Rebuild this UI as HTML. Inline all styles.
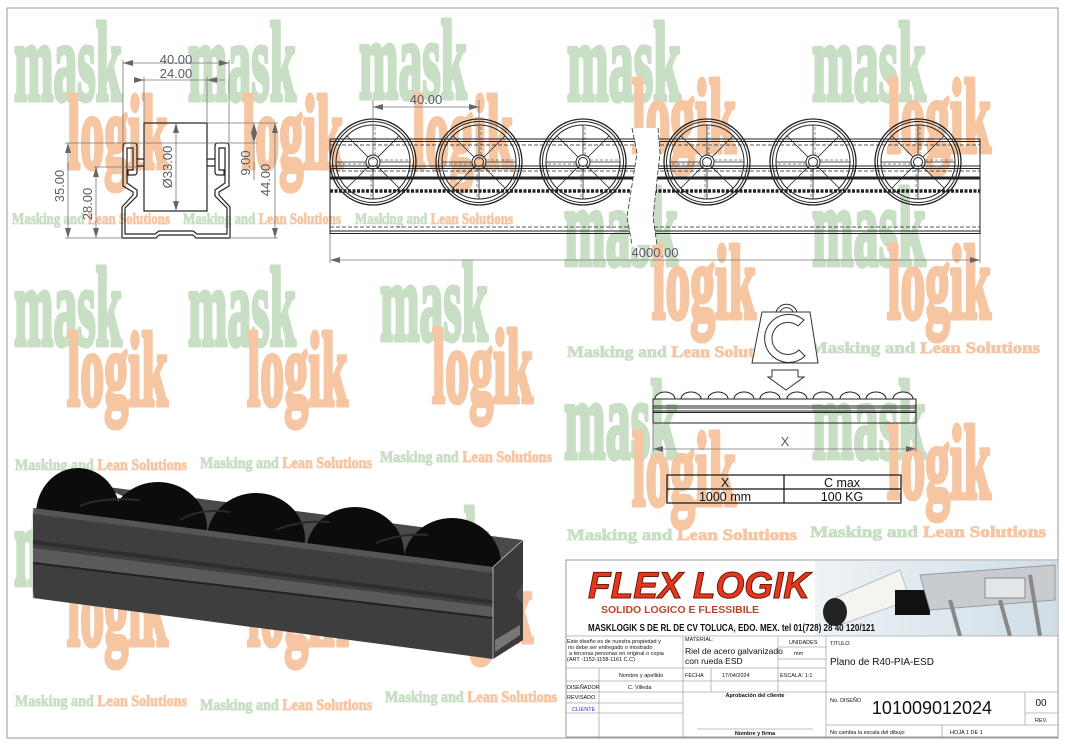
<!DOCTYPE html>
<html><head><meta charset="utf-8"><style>
html,body{margin:0;padding:0;background:#fff;}
svg{display:block;}
.d{font-family:"Liberation Sans",sans-serif;fill:#5a5a6a;font-size:13px;}
.t{font-family:"Liberation Sans",sans-serif;fill:#111;}
</style></head><body>
<svg width="1065" height="745" viewBox="0 0 1065 745" xmlns="http://www.w3.org/2000/svg">
<defs>
<marker id="a" markerWidth="10" markerHeight="6" refX="10" refY="3" orient="auto-start-reverse" markerUnits="userSpaceOnUse"><path d="M0,0 L10,3 L0,6 z" fill="#666"/></marker>
<linearGradient id="ph" x1="0" x2="1" y1="0" y2="0"><stop offset="0" stop-color="#eef3f6"/><stop offset="1" stop-color="#cfdde6"/></linearGradient>
<g id="wh" fill="none" stroke="#222" stroke-width="1">
<circle r="43" stroke-width="1.3"/><circle r="40.5"/><circle r="37"/><circle r="7"/><circle r="4.5"/>
<path d="M0,-7 V-37 M0,7 V37 M-7,0 H-37 M7,0 H37 M5,-5 L26,-26 M-5,-5 L-26,-26 M5,5 L26,26 M-5,5 L-26,26" stroke-width="0.8"/>
<path d="M2,-7 V-37 M-2,7 V37 M-7,2 H-37 M7,-2 H37" stroke-width="0.5" stroke-dasharray="3,2"/>
</g>
</defs>
<rect x="0" y="0" width="1065" height="745" fill="#fff"/>
<rect x="7" y="8" width="1051" height="730" fill="none" stroke="#999" stroke-width="1"/>

<!-- WATERMARKS -->
<g font-family="Liberation Serif,serif" font-weight="bold">
<g fill="#c9dfc5" stroke="#c9dfc5" stroke-width="5" stroke-linejoin="round" font-size="112">
<text x="14" y="100" textLength="108" lengthAdjust="spacingAndGlyphs">mask</text>
<text x="188" y="100" textLength="108" lengthAdjust="spacingAndGlyphs">mask</text>
<text x="359" y="98" textLength="108" lengthAdjust="spacingAndGlyphs">mask</text>
<text x="14" y="345" textLength="108" lengthAdjust="spacingAndGlyphs">mask</text>
<text x="188" y="345" textLength="108" lengthAdjust="spacingAndGlyphs">mask</text>
<text x="380" y="340" textLength="108" lengthAdjust="spacingAndGlyphs">mask</text>
<text x="14" y="585" textLength="108" lengthAdjust="spacingAndGlyphs">mask</text>
<text x="192" y="585" textLength="108" lengthAdjust="spacingAndGlyphs">mask</text>
<text x="382" y="585" textLength="108" lengthAdjust="spacingAndGlyphs">mask</text>
<text x="567" y="100" textLength="114" lengthAdjust="spacingAndGlyphs">mask</text>
<text x="812" y="100" textLength="114" lengthAdjust="spacingAndGlyphs">mask</text>
<text x="564" y="265" textLength="114" lengthAdjust="spacingAndGlyphs">mask</text>
<text x="812" y="265" textLength="114" lengthAdjust="spacingAndGlyphs">mask</text>
<text x="564" y="458" textLength="114" lengthAdjust="spacingAndGlyphs">mask</text>
<text x="812" y="458" textLength="114" lengthAdjust="spacingAndGlyphs">mask</text>
</g>
<g fill="#f6c6a3" stroke="#f6c6a3" stroke-width="5" stroke-linejoin="round" font-size="105">
<text x="67" y="168" textLength="101" lengthAdjust="spacingAndGlyphs">logik</text>
<text x="242" y="168" textLength="101" lengthAdjust="spacingAndGlyphs">logik</text>
<text x="412" y="168" textLength="101" lengthAdjust="spacingAndGlyphs">logik</text>
<text x="67" y="405" textLength="101" lengthAdjust="spacingAndGlyphs">logik</text>
<text x="247" y="405" textLength="101" lengthAdjust="spacingAndGlyphs">logik</text>
<text x="432" y="402" textLength="101" lengthAdjust="spacingAndGlyphs">logik</text>
<text x="67" y="645" textLength="101" lengthAdjust="spacingAndGlyphs">logik</text>
<text x="247" y="645" textLength="101" lengthAdjust="spacingAndGlyphs">logik</text>
<text x="432" y="642" textLength="101" lengthAdjust="spacingAndGlyphs">logik</text>
<text x="632" y="152" textLength="104" lengthAdjust="spacingAndGlyphs">logik</text>
<text x="887" y="152" textLength="104" lengthAdjust="spacingAndGlyphs">logik</text>
<text x="652" y="318" textLength="104" lengthAdjust="spacingAndGlyphs">logik</text>
<text x="887" y="318" textLength="104" lengthAdjust="spacingAndGlyphs">logik</text>
<text x="632" y="505" textLength="104" lengthAdjust="spacingAndGlyphs">logik</text>
<text x="887" y="498" textLength="104" lengthAdjust="spacingAndGlyphs">logik</text>
</g>
<g font-size="16" stroke-width="0.8">
<text x="12" y="224" textLength="158" lengthAdjust="spacingAndGlyphs"><tspan fill="#c9dfc5" stroke="#c9dfc5">Masking and </tspan><tspan fill="#f6c6a3" stroke="#f6c6a3">Lean Solutions</tspan></text>
<text x="183" y="224" textLength="158" lengthAdjust="spacingAndGlyphs"><tspan fill="#c9dfc5" stroke="#c9dfc5">Masking and </tspan><tspan fill="#f6c6a3" stroke="#f6c6a3">Lean Solutions</tspan></text>
<text x="355" y="224" textLength="158" lengthAdjust="spacingAndGlyphs"><tspan fill="#c9dfc5" stroke="#c9dfc5">Masking and </tspan><tspan fill="#f6c6a3" stroke="#f6c6a3">Lean Solutions</tspan></text>
<text x="15" y="470" textLength="172" lengthAdjust="spacingAndGlyphs"><tspan fill="#c9dfc5" stroke="#c9dfc5">Masking and </tspan><tspan fill="#f6c6a3" stroke="#f6c6a3">Lean Solutions</tspan></text>
<text x="200" y="468" textLength="172" lengthAdjust="spacingAndGlyphs"><tspan fill="#c9dfc5" stroke="#c9dfc5">Masking and </tspan><tspan fill="#f6c6a3" stroke="#f6c6a3">Lean Solutions</tspan></text>
<text x="380" y="462" textLength="172" lengthAdjust="spacingAndGlyphs"><tspan fill="#c9dfc5" stroke="#c9dfc5">Masking and </tspan><tspan fill="#f6c6a3" stroke="#f6c6a3">Lean Solutions</tspan></text>
<text x="15" y="706" textLength="172" lengthAdjust="spacingAndGlyphs"><tspan fill="#c9dfc5" stroke="#c9dfc5">Masking and </tspan><tspan fill="#f6c6a3" stroke="#f6c6a3">Lean Solutions</tspan></text>
<text x="200" y="710" textLength="172" lengthAdjust="spacingAndGlyphs"><tspan fill="#c9dfc5" stroke="#c9dfc5">Masking and </tspan><tspan fill="#f6c6a3" stroke="#f6c6a3">Lean Solutions</tspan></text>
<text x="385" y="702" textLength="172" lengthAdjust="spacingAndGlyphs"><tspan fill="#c9dfc5" stroke="#c9dfc5">Masking and </tspan><tspan fill="#f6c6a3" stroke="#f6c6a3">Lean Solutions</tspan></text>
<text x="567" y="357" textLength="218" lengthAdjust="spacingAndGlyphs"><tspan fill="#c9dfc5" stroke="#c9dfc5">Masking and </tspan><tspan fill="#f6c6a3" stroke="#f6c6a3">Lean Solutions</tspan></text>
<text x="810" y="353" textLength="230" lengthAdjust="spacingAndGlyphs"><tspan fill="#c9dfc5" stroke="#c9dfc5">Masking and </tspan><tspan fill="#f6c6a3" stroke="#f6c6a3">Lean Solutions</tspan></text>
<text x="567" y="540" textLength="230" lengthAdjust="spacingAndGlyphs"><tspan fill="#c9dfc5" stroke="#c9dfc5">Masking and </tspan><tspan fill="#f6c6a3" stroke="#f6c6a3">Lean Solutions</tspan></text>
<text x="810" y="537" textLength="236" lengthAdjust="spacingAndGlyphs"><tspan fill="#c9dfc5" stroke="#c9dfc5">Masking and </tspan><tspan fill="#f6c6a3" stroke="#f6c6a3">Lean Solutions</tspan></text>
</g>
</g>

<!-- SECTION VIEW -->
<g fill="none" stroke="#222" stroke-width="1.2">
<rect x="144" y="123" width="63" height="88"/>
<path d="M123,146 Q123,143 126,143 L134,143 Q137,143 137,146 L137,172 Q137,175 134,175 L128,175 L128,170 L133,170 L133,148 L127,148 L127,183 L137,190 L137,196 L125,208 L125,234 L155,234 L159,231 L193,231 L197,234 L227,234 L227,208 L215,196 L215,190 L225,183 L225,148 L219,148 L219,170 L224,170 L224,175 L218,175 Q215,175 215,172 L215,146 Q215,143 218,143 L226,143 Q229,143 229,146 L229,186 L219,192 L219,195 L230,207 L230,238 L196,238 L193,235 L159,235 L156,238 L122,238 L122,207 L133,195 L133,192 L123,186 Z"/>
<path d="M137,159 L144,159 M137,166 L144,166 M207,159 L215,159 M207,166 L215,166"/>
</g>
<g stroke="#777" stroke-width="0.8" fill="none">
<path d="M123,60 L123,143 M229,60 L229,143 M144,77 L144,123 M207,77 L207,123"/>
<path d="M65,143 L257,143 M207,123 L278,123 M229,238 L278,238 M65,238 L123,238 M94,167 L140,167"/>
<line x1="123" y1="63" x2="229" y2="63" marker-start="url(#a)" marker-end="url(#a)"/>
<line x1="134" y1="80" x2="144" y2="80" marker-end="url(#a)"/>
<line x1="144" y1="80" x2="207" y2="80"/>
<line x1="225" y1="80" x2="207" y2="80" marker-end="url(#a)"/>
<line x1="176" y1="123" x2="176" y2="211" marker-start="url(#a)" marker-end="url(#a)"/>
<line x1="254" y1="123" x2="254" y2="143" marker-start="url(#a)" marker-end="url(#a)"/>
<line x1="254" y1="143" x2="254" y2="180"/>
<line x1="275" y1="123" x2="275" y2="238" marker-start="url(#a)" marker-end="url(#a)"/>
<line x1="68" y1="143" x2="68" y2="238" marker-start="url(#a)" marker-end="url(#a)"/>
<line x1="96" y1="167" x2="96" y2="238" marker-start="url(#a)" marker-end="url(#a)"/>
</g>
<g class="d">
<text x="176" y="64" text-anchor="middle">40.00</text>
<text x="176" y="78" text-anchor="middle">24.00</text>
<text transform="translate(172,167) rotate(-90)" text-anchor="middle">Ø33.00</text>
<text transform="translate(250,163) rotate(-90)" text-anchor="middle">9.00</text>
<text transform="translate(270,180) rotate(-90)" text-anchor="middle">44.00</text>
<text transform="translate(64,186) rotate(-90)" text-anchor="middle">35.00</text>
<text transform="translate(92,204) rotate(-90)" text-anchor="middle">28.00</text>
</g>

<!-- TOP VIEW RAIL -->
<g stroke="#222" fill="none">
<path d="M330,139 H980 M330,141.5 H980 M330,166 H980 M330,168.5 H980 M330,231 H980 M330,233.5 H980" stroke-width="1"/>
<path d="M330,145 H980 M330,171 H980 M330,227 H980" stroke-width="0.8" stroke-dasharray="4,2"/>
<path d="M330,178 H980" stroke-width="3"/>
<path d="M330,191 H980" stroke-width="3.5" stroke-dasharray="3,1.5"/>
<path d="M330,139 V234 M980,139 V234" stroke-width="1"/>
</g>
<use href="#wh" x="373" y="162"/>
<use href="#wh" x="479" y="162"/>
<use href="#wh" x="583" y="162"/>
<use href="#wh" x="707" y="162"/>
<use href="#wh" x="813" y="162"/>
<use href="#wh" x="918" y="162"/>
<path d="M633,128 L637,153 L627,217 L632,245 L657,245 L653,217 L660,153 L658,128 Z" fill="#fff" stroke="none"/>
<path d="M632,128 L637,153 L627,217 L632,245 M658,128 L660,153 L653,217 L657,245" fill="none" stroke="#333" stroke-width="0.8" stroke-dasharray="5,2"/>
<g stroke="#777" stroke-width="0.8" fill="none">
<path d="M373,100 V160 M479,100 V160 M330,234 V263 M980,234 V263"/>
<line x1="373" y1="107" x2="479" y2="107" marker-start="url(#a)" marker-end="url(#a)"/>
<line x1="330" y1="260" x2="980" y2="260" marker-start="url(#a)" marker-end="url(#a)"/>
</g>
<text class="d" x="426" y="104" text-anchor="middle">40.00</text>
<text class="d" x="655" y="257" text-anchor="middle">4000.00</text>

<!-- WEIGHT -->
<g fill="#fff" stroke="#333" stroke-width="1">
<path d="M776,312 A11,11 0 0 1 797,312 L793,312 A7,7 0 0 0 780,312 Z"/>
<path d="M762,312 L810,312 L818,363 L752,363 Z"/>
<path d="M798,326 A16,16 0 1 0 799,350 L805,356 A24,24 0 1 1 804,320 Z"/>
<path d="M772,370 L798,370 L798,377 L804,377 L786,390 L768,377 L772,377 Z"/>
</g>
<g fill="#fff" stroke="#222" stroke-width="1">
<path d="M655,399 A10,7 0 0 1 675,399 M681,399 A10,7 0 0 1 701,399 M708,399 A10,7 0 0 1 728,399 M734,399 A10,7 0 0 1 754,399 M760,399 A10,7 0 0 1 780,399 M787,399 A10,7 0 0 1 807,399 M813,399 A10,7 0 0 1 833,399 M840,399 A10,7 0 0 1 860,399 M866,399 A10,7 0 0 1 886,399 M893,399 A10,7 0 0 1 913,399"/>
<rect x="653" y="399" width="263" height="24" fill="none"/>
<path d="M653,406 H916 M653,408 H916 M653,411 H916 M653,412.5 H916" fill="none"/>
</g>
<g stroke="#777" stroke-width="0.8" fill="none">
<path d="M653,423 V452 M916,423 V452"/>
<line x1="653" y1="449" x2="916" y2="449" marker-start="url(#a)" marker-end="url(#a)"/>
</g>
<text class="d" x="785" y="446" text-anchor="middle">X</text>
<g stroke="#111" stroke-width="1.2" fill="none">
<rect x="667" y="475" width="234" height="28"/>
<path d="M667,489 H901 M784,475 V503"/>
</g>
<g class="t" font-size="12.5" text-anchor="middle">
<text x="725" y="487">X</text><text x="842" y="487">C max</text>
<text x="725" y="501">1000 mm</text><text x="842" y="501">100 KG</text>
</g>

<!-- 3D RENDER -->
<g>
<path d="M100,486 L523,540 L523,640 L493,659 Z" fill="#4a4a4a"/>
<ellipse cx="78" cy="514" rx="42" ry="46" fill="#0c0c0c"/>
<ellipse cx="158" cy="528" rx="49" ry="46" fill="#0c0c0c"/>
<ellipse cx="256" cy="539" rx="49" ry="46" fill="#0c0c0c"/>
<ellipse cx="355" cy="553" rx="49" ry="46" fill="#0c0c0c"/>
<ellipse cx="452" cy="564" rx="49" ry="46" fill="#0c0c0c"/>
<path d="M80,506 Q100,497 140,500 M180,520 Q200,508 230,512 M276,530 Q300,520 330,522 M376,543 Q400,533 428,535" stroke="#2a2a2a" stroke-width="2" fill="none"/>
<path d="M493,567 L523,540 L523,583 L515,595 L523,605 L523,640 L493,659 Z" fill="#3a3a3a"/>
<path d="M495,640 L520,625 L520,635 L495,652 Z" fill="#777"/>
<path d="M33,508 L493,567 L493,659 L33,598 Z" fill="#3e3e3e"/>
<path d="M33,508 L493,567 L493,573 L33,514 Z" fill="#555"/>
<path d="M33,540 L493,600 L493,604 L33,544 Z" fill="#2e2e2e"/>
<path d="M33,548 L493,607 L493,617 L33,562 Z" fill="#5a5a5a"/>
<path d="M33,562 L493,617 L493,619 L33,564 Z" fill="#222"/>
<path d="M33,508 Q30,550 33,598" stroke="#ddd" stroke-width="1" fill="none"/>
<path d="M493,567 V659 M493,567 L523,540" stroke="#ccc" stroke-width="0.8" fill="none"/>
</g>

<!-- TITLE BLOCK -->
<rect x="566" y="560" width="492" height="177" fill="#fff" stroke="#999"/>
<rect x="815" y="561" width="242" height="75" fill="url(#ph)"/>
<g>
<path d="M830,600 L900,570 L910,600 L840,625 Z" fill="#f4f4f0" stroke="#bbb"/>
<ellipse cx="835" cy="612" rx="12" ry="14" fill="#222"/>
<rect x="895" y="590" width="35" height="25" fill="#111"/>
<path d="M920,575 L1055,565 L1055,600 L930,610 Z" fill="#c8ccd0" stroke="#999"/>
<path d="M950,600 L960,636 M1000,600 L1010,636 M1030,575 L1040,636" stroke="#888" stroke-width="4"/>
<rect x="985" y="578" width="40" height="20" fill="#e2e6ea" stroke="#888"/>
</g>
<text x="588" y="598" font-family="Liberation Sans,sans-serif" font-weight="bold" font-style="italic" font-size="37" fill="#e8361c" stroke="#6a1a0a" stroke-width="1" textLength="222" lengthAdjust="spacingAndGlyphs">FLEX LOGIK</text>
<text x="680" y="613" text-anchor="middle" font-family="Liberation Sans,sans-serif" font-weight="bold" font-size="10.5" fill="#b8482b">SOLIDO LOGICO E FLESSIBILE</text>
<text x="588" y="631" font-family="Liberation Sans,sans-serif" font-weight="bold" font-size="10" fill="#111" textLength="287" lengthAdjust="spacingAndGlyphs">MASKLOGIK S DE RL DE CV TOLUCA, EDO. MEX. tel 01(728) 28 40 120/121</text>
<g stroke="#aaa" stroke-width="0.8" fill="none">
<path d="M566,636 H1058 M566,668 H826 M566,681 H826 M566,692 H1058 M566,703 H683 M566,713 H683 M826,725 H1058 M1025,713 H1058"/>
<path d="M683,636 V737 M826,636 V737 M599,668 V737 M711,668 V692 M778,636 V692 M1025,692 V725 M942,725 V737"/>
<path d="M778,647 H826 M778,659 H826 M697,729 H813"/>
</g>
<g class="t" font-size="5.5">
<text x="567" y="643">Este diseño es de nuestra propiedad y</text>
<text x="568" y="649">no debe ser entregado o mostrado</text>
<text x="569" y="655">a terceras personas en original o copia</text>
<text x="567" y="661">(ART -1152-1158-1161 C.C)</text>
<text x="685" y="641">MATERIAL:</text>
<text x="789" y="644">UNIDADES</text>
<text x="794" y="655">mm</text>
<text x="830" y="645">TITULO</text>
<text x="641" y="677" text-anchor="middle">Nombre y apellido</text>
<text x="685" y="677">FECHA</text>
<text x="722" y="677">17/04/2024</text>
<text x="780" y="677">ESCALA: 1:1</text>
<text x="567" y="689">DISEÑADOR</text>
<text x="628" y="689">C. Villeda</text>
<text x="567" y="699">REVISADO</text>
<text x="572" y="711" style="fill:#2233dd">CLIENTE</text>
<text x="755" y="697" text-anchor="middle" font-weight="bold">Aprobación del cliente</text>
<text x="755" y="735" text-anchor="middle" font-weight="bold">Nombre y firma</text>
<text x="830" y="702">No. DISEÑO</text>
<text x="1035" y="722">REV.</text>
<text x="830" y="734">No cambia la escala del dibujo</text>
<text x="950" y="734">HOJA 1 DE 1</text>
</g>
<g class="t">
<text x="685" y="654" font-size="8.5">Riel de acero galvanizado</text>
<text x="685" y="664" font-size="8.5">con rueda ESD</text>
<text x="830" y="665" font-size="10">Plano de R40-PIA-ESD</text>
<text x="932" y="714" font-size="18" text-anchor="middle">101009012024</text>
<text x="1041" y="706" font-size="10" text-anchor="middle">00</text>
</g>
</svg>
</body></html>
